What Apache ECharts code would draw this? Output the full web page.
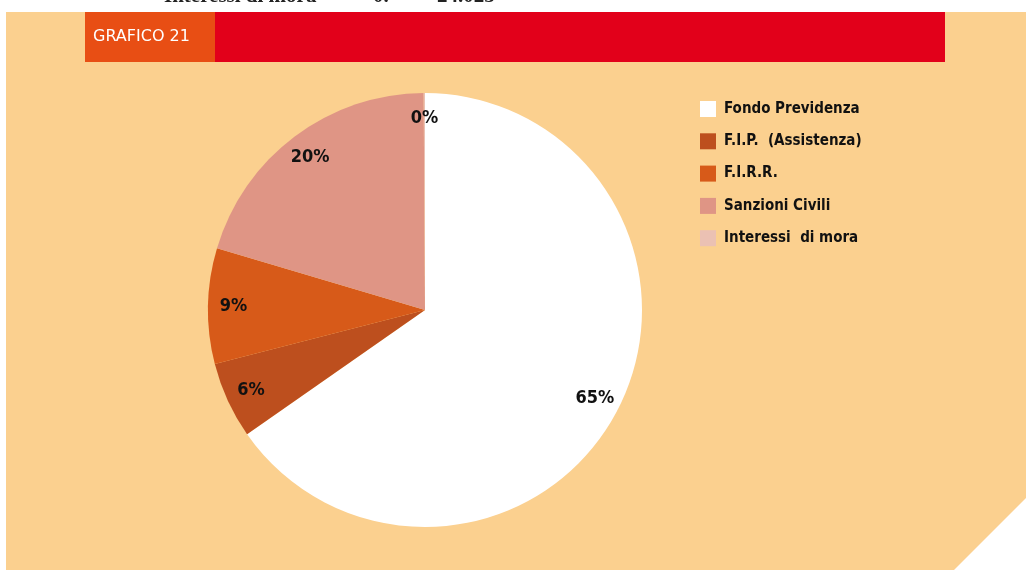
<!DOCTYPE html>
<html>
<head>
    <meta charset="utf-8" />
    <title>Grafico 21</title>
    <script type="text/javascript" src="https://cdn.jsdelivr.net/npm/echarts@6/dist/echarts.min.js"></script>
    <style>
        html, body { margin: 0; padding: 0; background: #ffffff; }
        #main { width: 1026px; height: 570px; }
    </style>
</head>
<body>
    <div id="main"></div>
    <script type="text/javascript">
        // voci e quote (%)
        var categories = ['Fondo Previdenza', 'F.I.P.  (Assistenza)', 'F.I.R.R.', 'Sanzioni Civili', 'Interessi  di mora'];
        var values = [65.3, 5.7, 8.6, 20.3, 0.1];
        var colors = ['#ffffff', '#bd4f1e', '#d75a19', '#df9585', '#ebc1b3'];

        var condensed = '"DejaVu Sans Condensed", "Liberation Sans Narrow", sans-serif';
        var serifTop = 'bold 21px "Liberation Serif", serif';

        var myChart = echarts.init(document.getElementById('main'));

        var option = {
            animation: false,
            graphic: [
                // pannello color pesca con angolo tagliato
                {
                    type: 'polygon', z: 0, silent: true,
                    shape: { points: [[6, 12], [1026, 12], [1026, 498], [954, 570], [6, 570]] },
                    style: { fill: '#fbd08f' }
                },
                {
                    type: 'rect', z: 1, silent: true,
                    shape: { x: 215, y: 12, width: 730, height: 50 },
                    style: { fill: '#e2001a' }
                },
                {
                    type: 'rect', z: 1, silent: true,
                    shape: { x: 85, y: 12, width: 130, height: 50 },
                    style: { fill: '#e84e14' }
                },
                {
                    type: 'text', z: 2, silent: true, left: 93, top: 29,
                    style: { text: 'GRAFICO 21', fill: '#ffffff', font: '16px "DejaVu Sans", sans-serif' }
                },
                // riga della tabella sopra, tagliata dal bordo
                {
                    type: 'text', z: 2, silent: true, x: 164, y: -14,
                    style: { text: 'Interessi di mora', fill: '#222', font: serifTop, verticalAlign: 'top' }
                },
                {
                    type: 'text', z: 2, silent: true, x: 373, y: -14,
                    style: { text: '0.', fill: '#222', font: serifTop, verticalAlign: 'top' }
                },
                {
                    type: 'text', z: 2, silent: true, x: 437, y: -14,
                    style: { text: '24.025', fill: '#222', font: serifTop, verticalAlign: 'top' }
                }
            ],
            legend: {
                orient: 'vertical',
                left: 700,
                top: 101,
                padding: 0,
                icon: 'rect',
                itemWidth: 16,
                itemHeight: 16,
                itemGap: 16.3,
                data: categories,
                textStyle: {
                    color: '#111',
                    fontSize: 15,
                    fontWeight: 'bold',
                    fontFamily: condensed,
                    padding: [0, 0, 0, 3]
                }
            },
            series: [
                {
                    type: 'pie',
                    z: 3,
                    center: [425, 310],
                    radius: 217,
                    startAngle: 90,
                    clockwise: true,
                    label: { show: false },
                    labelLine: { show: false },
                    emphasis: { scale: false },
                    data: categories.map(function (name, i) {
                        return { name: name, value: values[i], itemStyle: { color: colors[i] } };
                    })
                },
                {
                    // serie trasparente solo per le etichette vicino al bordo
                    type: 'pie',
                    z: 4,
                    silent: true,
                    center: [425, 310],
                    radius: [160, 217],
                    startAngle: 90,
                    clockwise: true,
                    itemStyle: { color: 'rgba(0,0,0,0)' },
                    label: {
                        show: true,
                        position: 'inside',
                        color: '#111',
                        fontSize: 18,
                        fontWeight: 'bold',
                        fontFamily: condensed,
                        formatter: function (p) { return Math.round(p.percent) + '%'; }
                    },
                    labelLine: { show: false },
                    data: categories.map(function (name, i) {
                        return { name: name, value: values[i] };
                    })
                }
            ]
        };

        myChart.setOption(option);
    </script>
</body>
</html>
